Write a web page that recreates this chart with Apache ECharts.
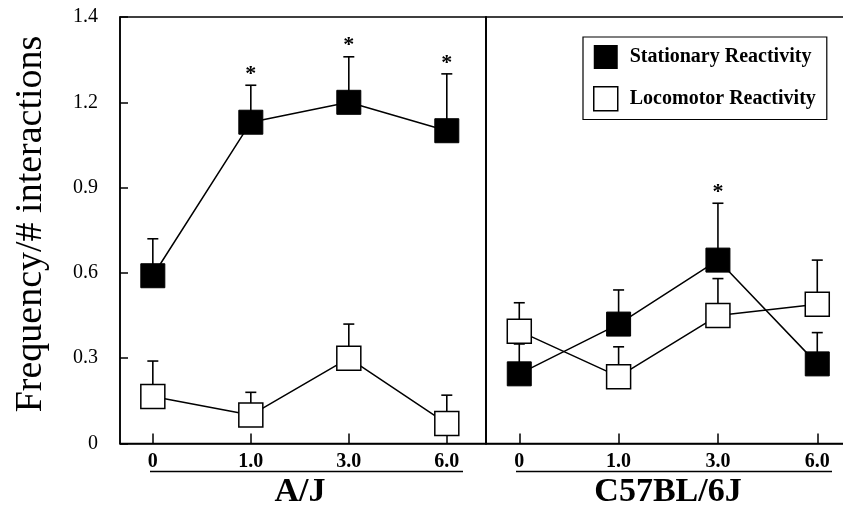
<!DOCTYPE html>
<html><head><meta charset="utf-8">
<script src="https://cdn.jsdelivr.net/npm/echarts@6/dist/echarts.min.js"></script>
<style>html,body{margin:0;padding:0;background:#fff}#c{width:843px;height:507px}</style>
</head><body><div id="c"></div>
<script>
const doses = ['0', '1.0', '3.0', '6.0'];
const strains = ['A/J', 'C57BL/6J'];
const seriesNames = ['Stationary Reactivity', 'Locomotor Reactivity'];
const yTickLabels = ['0', '0.3', '0.6', '0.9', '1.2', '1.4'];
const yTitle = 'Frequency/# interactions';

const ajStationary = [0.59, 1.13, 1.20, 1.10];
const ajStationaryErrTop = [0.72, 1.26, 1.36, 1.30];
const ajLocomotor = [0.165, 0.10, 0.30, 0.07];
const ajLocomotorErrTop = [0.29, 0.18, 0.42, 0.17];
const c57Stationary = [0.245, 0.42, 0.645, 0.28];
const c57StationaryErrTop = [0.35, 0.54, 0.845, 0.39];
const c57Locomotor = [0.395, 0.235, 0.45, 0.49];
const c57LocomotorErrTop = [0.495, 0.34, 0.58, 0.645];
const ajSignificant = [false, true, true, true];
const c57Significant = [false, false, true, false];

const FONT = '"Liberation Serif", "DejaVu Serif", serif';

function pts(vals) { return vals.map((v, i) => [i, v]); }
function errData(vals, tops) { return vals.map((v, i) => [i, v, tops[i]]); }
function starData(tops, sig) { return tops.map((t, i) => [i, t]).filter((d, i) => sig[i]); }

function errorRender(params, api) {
  const x = api.value(0);
  const lo = api.coord([x, api.value(1)]);
  const hi = api.coord([x, api.value(2)]);
  const st = { stroke: '#000', lineWidth: 1.6 };
  return { type: 'group', children: [
    { type: 'line', shape: { x1: lo[0], y1: lo[1], x2: hi[0], y2: hi[1] }, style: st },
    { type: 'line', shape: { x1: hi[0] - 5.5, y1: hi[1], x2: hi[0] + 5.5, y2: hi[1] }, style: st }
  ]};
}
function starRender(params, api) {
  const p = api.coord([api.value(0), api.value(1)]);
  return { type: 'text', x: p[0], y: p[1] - 11,
    style: { text: '*', font: 'bold 22px ' + FONT, textAlign: 'center', textVerticalAlign: 'middle', fill: '#000' } };
}
function lineSeries(name, vals, ax, filled) {
  return { type: 'line', name: name, xAxisIndex: ax, yAxisIndex: ax, data: pts(vals),
    symbol: 'rect', symbolSize: 24, z: 3, silent: true,
    lineStyle: { color: '#000', width: 1.5 },
    itemStyle: filled ? { color: '#000', borderColor: '#000', borderWidth: 1 }
                      : { color: '#fff', borderColor: '#000', borderWidth: 1.5 },
    emphasis: { disabled: true } };
}
function errSeries(vals, tops, ax) {
  return { type: 'custom', xAxisIndex: ax, yAxisIndex: ax, data: errData(vals, tops),
    renderItem: errorRender, z: 1, silent: true };
}
function starSeries(tops, sig, ax) {
  return { type: 'custom', xAxisIndex: ax, yAxisIndex: ax, data: starData(tops, sig),
    renderItem: starRender, z: 4, silent: true };
}
function xAxis(g) {
  return { gridIndex: g, type: 'value', min: -0.335, max: 3.4, splitLine: { show: false },
    axisLine: { show: true, onZero: false, lineStyle: { color: '#000', width: 1.5 } },
    axisTick: { show: true, inside: true, length: 10, customValues: [0, 1, 2, 3], lineStyle: { color: '#000', width: 1.5 } },
    axisLabel: { customValues: [0, 1, 2, 3], formatter: v => doses[Math.round(v)], fontFamily: FONT,
      fontWeight: 'bold', fontSize: 20, color: '#000', margin: 8 } };
}
function yAxis(g) {
  return { gridIndex: g, type: 'value', min: 0, max: 1.5, interval: 0.3, splitLine: { show: false },
    axisLine: { show: true, onZero: false, lineStyle: { color: '#000', width: 1.5 } },
    axisTick: { show: g === 0, inside: true, length: 8, lineStyle: { color: '#000', width: 1.5 } },
    axisLabel: { show: g === 0, formatter: (v, i) => yTickLabels[i], fontFamily: FONT, fontSize: 20, color: '#000', margin: 22 } };
}

const chart = echarts.init(document.getElementById('c'), null, { renderer: 'canvas' });
chart.setOption({
  backgroundColor: '#fff',
  animation: false,
  grid: [
    { left: 120, top: 17, width: 366, height: 426.5, show: true, borderColor: '#000', borderWidth: 1.5, outerBoundsMode: 'none', containLabel: false },
    { left: 486, top: 17, width: 371, height: 426.5, show: true, borderColor: '#000', borderWidth: 1.5, outerBoundsMode: 'none', containLabel: false }
  ],
  xAxis: [xAxis(0), xAxis(1)],
  yAxis: [yAxis(0), yAxis(1)],
  legend: {
    left: 583, top: 37, orient: 'vertical', padding: [8, 11, 8, 10], itemGap: 17,
    itemWidth: 24, itemHeight: 24, borderColor: '#000', borderWidth: 1.2, backgroundColor: '#fff',
    selectedMode: false,
    textStyle: { fontFamily: FONT, fontWeight: 'bold', fontSize: 20, color: '#000', padding: [0, 0, 0, 7] },
    data: [
      { name: seriesNames[0], icon: 'rect', itemStyle: { color: '#000', borderWidth: 0 } },
      { name: seriesNames[1], icon: 'rect', itemStyle: { color: '#fff', borderColor: '#000', borderWidth: 1.5 } }
    ]
  },
  series: [
    errSeries(ajStationary, ajStationaryErrTop, 0),
    errSeries(ajLocomotor, ajLocomotorErrTop, 0),
    errSeries(c57Stationary, c57StationaryErrTop, 1),
    errSeries(c57Locomotor, c57LocomotorErrTop, 1),
    lineSeries(seriesNames[0], ajStationary, 0, true),
    lineSeries(seriesNames[1], ajLocomotor, 0, false),
    lineSeries(seriesNames[0], c57Stationary, 1, true),
    lineSeries(seriesNames[1], c57Locomotor, 1, false),
    starSeries(ajStationaryErrTop, ajSignificant, 0),
    starSeries(c57StationaryErrTop, c57Significant, 1)
  ],
  graphic: [
    { type: 'line', shape: { x1: 150, y1: 471.5, x2: 463, y2: 471.5 }, style: { stroke: '#000', lineWidth: 1.6 } },
    { type: 'line', shape: { x1: 516, y1: 471.5, x2: 832, y2: 471.5 }, style: { stroke: '#000', lineWidth: 1.6 } },
    { type: 'text', x: 300, y: 492, style: { text: strains[0], font: 'bold 34px ' + FONT, textAlign: 'center', textVerticalAlign: 'middle', fill: '#000' } },
    { type: 'text', x: 668, y: 492, style: { text: strains[1], font: 'bold 34px ' + FONT, textAlign: 'center', textVerticalAlign: 'middle', fill: '#000' } },
    { type: 'text', x: 31, y: 224, rotation: Math.PI / 2, style: { text: yTitle, font: '38px ' + FONT, textAlign: 'center', textVerticalAlign: 'middle', fill: '#000' } }
  ]
});
</script>
</body></html>
